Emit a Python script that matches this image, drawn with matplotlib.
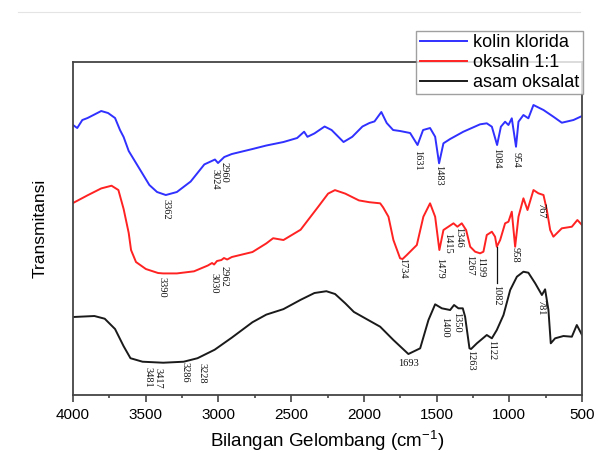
import matplotlib
matplotlib.use("Agg")
import matplotlib.pyplot as plt
from matplotlib.lines import Line2D
from matplotlib.ticker import MultipleLocator

plt.rcParams['font.family'] = ['Liberation Sans', 'DejaVu Sans']
plt.rcParams['mathtext.default'] = 'regular'

# --- data (wavenumber, transmittance in arbitrary offset units) ---
kolin_wn = [4000, 3971, 3936, 3900, 3853, 3806, 3759, 3711, 3677, 3652, 3617, 3546, 3475,
            3422, 3362, 3286, 3191, 3097, 3024, 3003, 2960, 2908, 2766, 2671, 2553, 2459,
            2411, 2388, 2340, 2270, 2222, 2140, 2080, 2010, 1962, 1927, 1880, 1843, 1799,
            1751, 1682, 1631, 1593, 1545, 1510, 1483, 1453, 1407, 1316, 1201, 1155, 1120,
            1084, 1058, 1029, 1006, 983, 954, 937, 903, 869, 834, 765, 697, 639, 559, 500]
kolin_t = [270, 267, 275, 277, 280.5, 284, 282, 277, 265, 258, 244, 227, 210,
           203, 200, 203, 213.5, 230.6, 235.5, 232, 238, 241, 246, 249.5, 253, 257,
           263.3, 258.2, 261.6, 268.5, 265, 253, 258.2, 268.5, 272, 273.6, 283, 272, 265,
           264, 262, 250, 265, 267, 258.3, 231.7, 251.7, 256, 263.3, 270.7, 271.7, 268.3,
           250, 268.3, 273.3, 270, 276.7, 248.3, 273.3, 280, 276.7, 290, 285, 278.3, 272.3, 275, 279]

oksalin_wn = [4000, 3900, 3806, 3735, 3688, 3652, 3617, 3601, 3567, 3499, 3415, 3380, 3286,
              3168, 3073, 3044, 3030, 3010, 2980, 2962, 2940, 2908, 2766, 2671, 2624, 2553,
              2435, 2317, 2246, 2199, 2128, 2034, 1962, 1888, 1868, 1831, 1797, 1751, 1734,
              1705, 1636, 1591, 1545, 1510, 1481, 1453, 1419, 1384, 1357, 1327, 1297, 1269,
              1235, 1201, 1178, 1155, 1120, 1098, 1086, 1063, 1029, 1006, 983, 960, 937, 903,
              875, 834, 800, 765, 742, 719, 697, 639, 570, 532, 500]
oksalin_t = [192, 199.7, 206.6, 209.3, 205, 186, 162, 145, 133, 126, 122, 121.6, 121.6,
             123.7, 129.5, 132, 130.5, 134, 135, 137, 135.5, 138, 143, 151.6, 156.8, 155,
             165.3, 187.7, 201.4, 204.9, 201.4, 194.6, 192.8, 191.7, 187.7, 178.3, 155, 136.7, 136,
             140, 150, 178.3, 191.7, 178.3, 145, 165, 168.3, 171.7, 168.3, 171.7, 165, 148.3,
             143.3, 141.7, 143.3, 160, 163.3, 158.3, 148.3, 155, 171.7, 173.3, 183.3, 148.3, 178.3, 196.7,
             185, 205, 201.7, 200, 185, 165, 158.3, 166.7, 168.3, 175, 170]

asam_wn = [4000, 3853, 3782, 3711, 3652, 3605, 3522, 3380, 3239, 3144, 3026, 2908, 2766,
           2671, 2553, 2435, 2340, 2258, 2198, 2128, 2069, 1986, 1888, 1797, 1694, 1613,
           1556, 1510, 1464, 1407, 1380, 1350, 1320, 1304, 1274, 1263, 1223, 1155, 1120,
           1086, 1040, 994, 948, 903, 869, 822, 776, 754, 731, 715, 685, 628, 570, 536, 500]
asam_t = [78, 79, 76.3, 66, 48.8, 36.8, 33.3, 32.3, 33.3, 36.8, 45.3, 57.4, 72.8,
          80.4, 85.9, 95.2, 102, 103.8, 101, 91.7, 83.1, 76.3, 68.3, 55, 41, 46.7,
          75, 90.7, 86.7, 85, 90, 86.7, 86.7, 78.3, 46.7, 46, 51.7, 60, 56.7,
          65, 80, 105, 118.3, 123.3, 122.3, 111.7, 100, 105.7, 85, 51.7, 56.7, 59, 58.3, 70, 60]

# peak labels: text, wavenumber position, top of label (same units as transmittance)
kolin_peaks = [("3362", 3362, 196), ("3024", 3024, 226), ("2960", 2960, 233), ("1631", 1631, 245),
               ("1483", 1483, 230), ("1084", 1084, 247), ("954", 954, 243)]
oksalin_peaks = [("3390", 3390, 118), ("3030", 3030, 122), ("2962", 2962, 129), ("1734", 1734, 137),
                 ("1479", 1479, 137), ("1415", 1421, 162), ("1346", 1350, 168), ("1267", 1272, 140),
                 ("1199", 1199, 138), ("1082", 1090, 110), ("958", 958, 148), ("767", 780, 192)]
asam_peaks = [("3481", 3481, 28), ("3417", 3417, 27), ("3286", 3232, 33), ("3228", 3116, 32),
              ("1400", 1448, 78), ("1350", 1365, 83), ("1263", 1263, 45), ("1122", 1122, 55),
              ("781", 781, 95)]

fig = plt.figure(figsize=(5.98, 4.53), dpi=100)
ax = fig.add_axes([0.1221, 0.1280, 0.8512, 0.7351])

ax.plot(kolin_wn, kolin_t, color='#3030ff', lw=1.4, label='kolin klorida')
ax.plot(oksalin_wn, oksalin_t, color='#ff2222', lw=1.4, label='oksalin 1:1')
ax.plot(asam_wn, asam_t, color='#1a1a1a', lw=1.4, label='asam oksalat')

for peaks in (kolin_peaks, oksalin_peaks, asam_peaks):
    for txt, x, y in peaks:
        ax.text(x, y, txt, rotation=270, ha='center', va='top', fontsize=7.5,
                family='Liberation Serif', color='#111111')
ax.text(1696, 32, "1693", ha='center', va='center', fontsize=7.5,
        family='Liberation Serif', color='#111111')
# leader line for the 1082 band
ax.plot([1086, 1086], [148, 112], color='#111111', lw=0.9)

ax.set_xlim(4000, 500)
ax.set_ylim(0, 333)
ax.xaxis.set_major_locator(MultipleLocator(500))
ax.xaxis.set_minor_locator(MultipleLocator(250))
ax.set_yticks([])
ax.tick_params(axis='x', which='major', direction='out', length=5, width=1.2,
               color='#444444', labelsize=11, pad=4)
ax.tick_params(axis='x', which='minor', direction='out', length=2.5, width=1.2, color='#444444')
for sp in ax.spines.values():
    sp.set_color('#444444')
    sp.set_linewidth(1.3)

ax.set_xlabel('Bilangan Gelombang (cm$^{-1}$)', fontsize=13.5, labelpad=5)
ax.set_ylabel('Transmitansi', fontsize=12.5, labelpad=18)

leg = ax.legend(loc='upper right', bbox_to_anchor=(0.975, 0.932), bbox_transform=fig.transFigure,
                fontsize=13, frameon=True, fancybox=False, borderaxespad=0, borderpad=0.2,
                handlelength=2.6, handletextpad=0.35, labelspacing=0.15)
leg.get_frame().set_edgecolor('#888888')
leg.get_frame().set_linewidth(1.0)
leg.set_zorder(10)

fig.add_artist(Line2D([0.03, 0.97], [1 - 12 / 453, 1 - 12 / 453], color='#e4e4e4', lw=0.8))

fig.savefig('out.png', dpi=100)
